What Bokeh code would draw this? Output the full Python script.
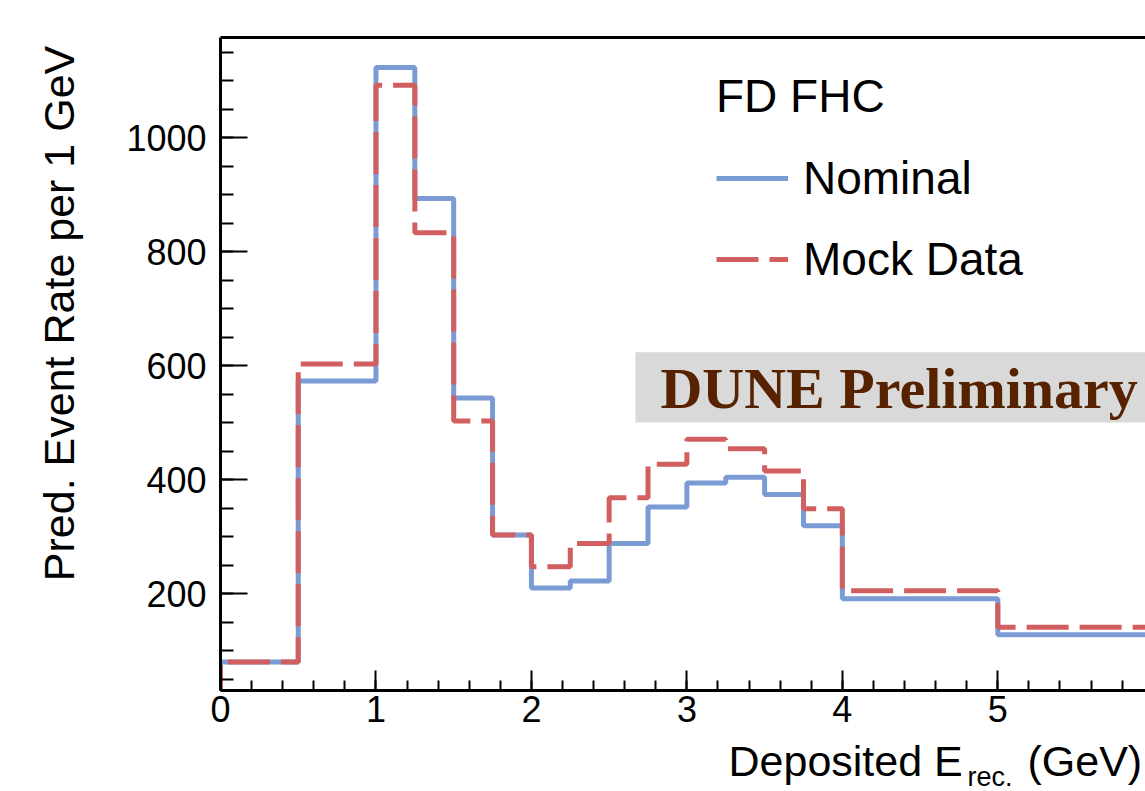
import numpy as np
from bokeh.plotting import figure
from bokeh.layouts import row, column
from bokeh.models import (Range1d, FixedTicker, LinearAxis, Label, BoxAnnotation,
                          Legend, LegendItem, ColumnDataSource)
from bokeh.embed import file_html
from bokeh.resources import INLINE

# ---- data ----
bin_edges = [0, 0.5, 1, 1.25, 1.5, 1.75, 2, 2.25, 2.5, 2.75, 3, 3.25, 3.5, 3.75, 4, 5, 6]
nominal = [80, 573, 1123, 893, 543, 303, 210, 222, 288, 352, 394, 404, 374, 319, 191, 128]
mock_data = [80, 603, 1092, 833, 503, 303, 247, 288, 368, 427, 471, 454, 415, 349, 205, 141]
x_major_ticks = [0, 1, 2, 3, 4, 5]
y_major_ticks = [200, 400, 600, 800, 1000]
x_minor_ticks = [round(0.2 * i, 2) for i in range(0, 31)]
y_minor_ticks = [50 * i for i in range(1, 24)]

BLUE = "#7b9bd4"
RED = "#d25f5f"
FONT = "Liberation Sans"


def step_source(edges, vals):
    xs = [edges[0]]
    ys = [0]
    for i, v in enumerate(vals):
        xs += [edges[i], edges[i + 1]]
        ys += [v, v]
    return ColumnDataSource(dict(x=xs, y=ys))


W, H = 1145, 791
LEFT_W = 100          # width of the strip holding the y-axis title
TOP_H = 736           # height of the row holding the main plot
X_END = 5.95
Y_START, Y_END = 30, 1175.6

p = figure(width=W - LEFT_W, height=TOP_H, x_range=Range1d(0, X_END), y_range=Range1d(Y_START, Y_END),
           output_backend="svg", toolbar_location=None,
           min_border_left=220 - LEFT_W, min_border_right=0, min_border_top=37,
           min_border_bottom=TOP_H - 690)
p.outline_line_color = None
p.xgrid.visible = False
p.ygrid.visible = False

for ax in (p.xaxis[0], p.yaxis[0]):
    ax.axis_line_width = 3
    ax.axis_line_color = "black"
    ax.major_tick_line_width = 2
    ax.minor_tick_line_width = 2
    ax.major_tick_out = 0
    ax.minor_tick_out = 0
    ax.major_label_text_font = FONT
    ax.major_label_text_font_size = "36px"
    ax.major_label_text_color = "black"

p.xaxis[0].ticker = FixedTicker(ticks=x_major_ticks, minor_ticks=x_minor_ticks)
p.xaxis[0].major_tick_in = 20
p.xaxis[0].minor_tick_in = 10
p.xaxis[0].major_label_standoff = 5

p.yaxis[0].ticker = FixedTicker(ticks=y_major_ticks, minor_ticks=y_minor_ticks)
p.yaxis[0].major_tick_in = 27
p.yaxis[0].minor_tick_in = 13
p.yaxis[0].major_label_standoff = 14

top_axis = LinearAxis(ticker=FixedTicker(ticks=[]), axis_line_width=3,
                      major_tick_line_color=None, minor_tick_line_color=None,
                      major_label_text_color=None)
p.add_layout(top_axis, "above")

# DUNE Preliminary box
p.add_layout(BoxAnnotation(left=2.669, right=6.5, bottom=500.2, top=623.5,
                           fill_color="#d9d9d9", fill_alpha=1.0, line_color=None, level="underlay"))
p.add_layout(Label(x=2.83, y=30 + (690 - 388.5) / 0.57, text="DUNE Preliminary", text_font="Liberation Serif",
                   text_font_style="bold", text_font_size="58px", text_color="#562200",
                   text_baseline="middle", text_align="left"))

# histograms
r_nom = p.line("x", "y", source=step_source(bin_edges, nominal), line_color=BLUE, line_width=5)
r_mock = p.line("x", "y", source=step_source(bin_edges, mock_data), line_color=RED, line_width=5,
                line_dash="42 11")

legend = Legend(items=[LegendItem(label="Nominal", renderers=[r_nom]),
                       LegendItem(label="Mock Data", renderers=[r_mock])],
                title="FD FHC", location=(496, 404), orientation="vertical",
                title_text_font=FONT, title_text_font_size="46px", title_text_font_style="normal",
                title_text_color="black", title_standoff=28,
                label_text_font=FONT, label_text_font_size="46px", label_text_color="black",
                glyph_width=72, glyph_height=50, label_height=50, label_standoff=15,
                spacing=27, padding=0, margin=0,
                background_fill_alpha=0, border_line_color=None)
p.add_layout(legend)

# strip for the y-axis title (left of the plot)
yfig = figure(width=LEFT_W, height=TOP_H, x_range=Range1d(0, LEFT_W), y_range=Range1d(0, TOP_H),
              output_backend="svg", toolbar_location=None, x_axis_type=None, y_axis_type=None,
              min_border=0)
yfig.outline_line_color = None
yfig.xgrid.visible = False
yfig.ygrid.visible = False
yfig.add_layout(Label(x=58, y=TOP_H - 311, text="Pred. Event Rate per 1 GeV",
                      angle=np.pi / 2, text_align="center", text_baseline="middle",
                      text_font=FONT, text_font_size="43px", text_color="black"))

# strip for the x-axis title (below the plot)
BOT_H = H - TOP_H
xfig = figure(width=W, height=BOT_H, x_range=Range1d(0, W), y_range=Range1d(0, BOT_H),
              output_backend="svg", toolbar_location=None, x_axis_type=None, y_axis_type=None,
              min_border=0)
xfig.outline_line_color = None
xfig.xgrid.visible = False
xfig.ygrid.visible = False
xfig.add_layout(Label(x=728, y=H - 760, text="Deposited E", text_align="left", text_baseline="middle",
                      text_font=FONT, text_font_size="43px", text_color="black"))
xfig.add_layout(Label(x=967, y=H - 776, text="rec.", text_align="left", text_baseline="middle",
                      text_font=FONT, text_font_size="27px", text_color="black"))
xfig.add_layout(Label(x=1027, y=H - 760, text="(GeV)", text_align="left", text_baseline="middle",
                      text_font=FONT, text_font_size="43px", text_color="black"))

layout = column(row(yfig, p, spacing=0), xfig, spacing=0)
open("out.html", "w").write(file_html(layout, INLINE))
